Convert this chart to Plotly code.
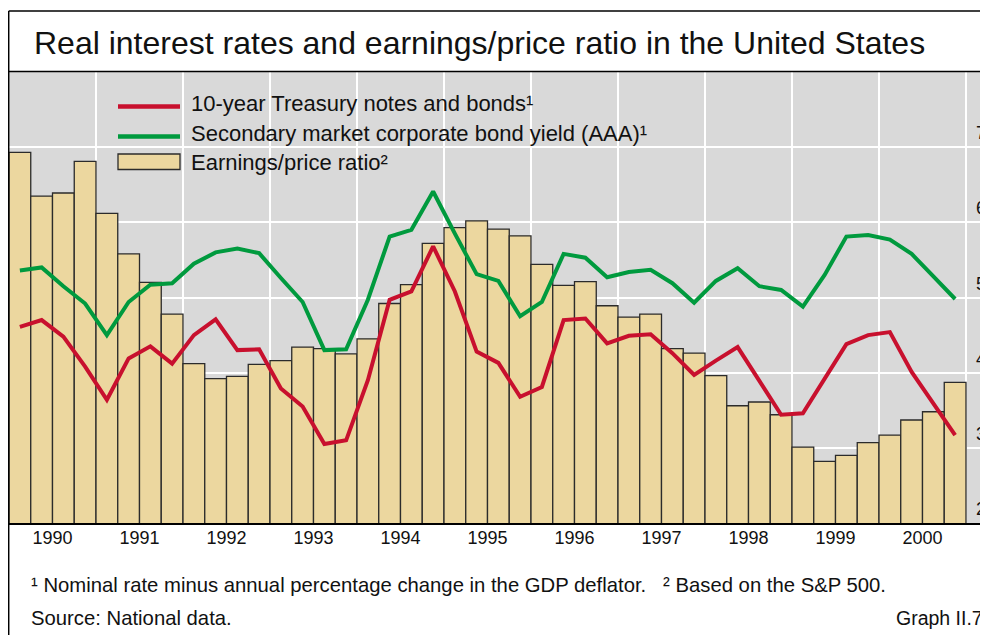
# -*- coding: utf-8 -*-
"""Real interest rates and earnings/price ratio in the United States (Graph II.7)"""
import plotly.graph_objects as go

# ── data (quarterly, 1990 Q1 - 2000 Q4, per cent) ─────────────
years = ['1990', '1991', '1992', '1993', '1994', '1995',
         '1996', '1997', '1998', '1999', '2000']
quarters = [f'{y} Q{q}' for y in years for q in range(1, 5)]

earnings_price = [6.93, 6.35, 6.39, 6.81, 6.12, 5.58, 5.20, 4.78,
                  4.12, 3.92, 3.95, 4.11, 4.16, 4.34, 4.32, 4.25,
                  4.45, 4.92, 5.17, 5.72, 5.93, 6.02, 5.91, 5.82,
                  5.44, 5.16, 5.21, 4.89, 4.74, 4.78, 4.32, 4.26,
                  3.96, 3.56, 3.61, 3.44, 3.01, 2.82, 2.90, 3.07,
                  3.17, 3.37, 3.48, 3.87]
treasury_10y = [4.61, 4.70, 4.48, 4.08, 3.64, 4.19, 4.35, 4.12,
                4.50, 4.71, 4.30, 4.31, 3.79, 3.55, 3.05, 3.10,
                3.90, 4.97, 5.08, 5.68, 5.08, 4.28, 4.13, 3.68,
                3.81, 4.70, 4.72, 4.39, 4.49, 4.51, 4.26, 3.97,
                4.16, 4.34, 3.89, 3.44, 3.46, 3.91, 4.38, 4.50,
                4.54, 4.01, 3.59, 3.17]
corporate_aaa = [5.36, 5.40, 5.15, 4.92, 4.50, 4.94, 5.17, 5.19,
                 5.45, 5.60, 5.65, 5.59, 5.26, 4.94, 4.30, 4.31,
                 4.97, 5.81, 5.90, 6.41, 5.85, 5.31, 5.22, 4.75,
                 4.94, 5.58, 5.53, 5.27, 5.34, 5.37, 5.19, 4.93,
                 5.22, 5.39, 5.15, 5.10, 4.88, 5.30, 5.81, 5.83,
                 5.77, 5.58, 5.28, 4.98]
y_ticks = [2, 3, 4, 5, 6, 7]

# ── style ─────────────────────────────────────────
RED = '#c8102e'
GREEN = '#009a3e'
BAR = '#ecd79f'
EDGE = '#2b2b2b'
BG = '#d9d9d9'
FONT = 'Liberation Sans, Arial, sans-serif'

# the page puts the figure 8px in from the top-left corner of the window
OFF = 8
W, H = 980, 627
L, R, T, B = 1, 0, 64, 112


def px(x):
    """page x (pixels) -> paper x"""
    return (x - OFF - L) / (W - L - R)


def py(y):
    """page y (pixels) -> paper y"""
    return (H - B - (y - OFF)) / (H - T - B)


idx = list(range(len(quarters)))

fig = go.Figure()
fig.add_trace(go.Bar(
    x=idx, y=earnings_price, width=1, name='Earnings/price ratio²',
    marker=dict(color=BAR, line=dict(color=EDGE, width=1.3)),
    hovertext=quarters,
))
fig.add_trace(go.Scatter(
    x=idx, y=corporate_aaa, mode='lines', hovertext=quarters,
    name='Secondary market corporate bond yield (AAA)¹',
    line=dict(color=GREEN, width=4),
))
fig.add_trace(go.Scatter(
    x=idx, y=treasury_10y, mode='lines', hovertext=quarters,
    name='10-year Treasury notes and bonds¹',
    line=dict(color=RED, width=4),
))

fig.update_layout(
    width=W, height=H,
    margin=dict(l=L, r=R, t=T, b=B),
    paper_bgcolor='white', plot_bgcolor=BG,
    showlegend=False,
    font=dict(family=FONT, color='#111'),
)
fig.update_xaxes(
    range=[-0.5, -0.5 + (W - L - R) / 21.75],
    tickvals=[1.5 + 4 * i for i in range(len(years))], ticktext=years,
    tickfont=dict(size=18), ticks='', ticklabelstandoff=-3,
    showgrid=False, zeroline=False,
    showline=True, linecolor='black', linewidth=2,
    minor=dict(tickvals=[3.5 + 4 * i for i in range(len(years))],
               showgrid=True, gridcolor='white', gridwidth=1.5),
)
fig.update_yaxes(
    range=[2, 8], tickvals=y_ticks, showticklabels=False,
    showgrid=True, gridcolor='white', gridwidth=1.5, zeroline=False,
)

# right-hand scale, labels sit just above their gridline at the right edge
for v in y_ticks:
    fig.add_annotation(x=1, xref='paper', y=v, yref='y', text=str(v),
                       xanchor='right', yanchor='middle', yshift=14,
                       showarrow=False, font=dict(size=18))

# ── frame ─────────────────────────────────────────
frame = dict(type='line', xref='paper', yref='paper', layer='above',
             line=dict(color='black', width=1.5))
fig.add_shape(x0=px(8.7), x1=px(990), y0=py(11), y1=py(11), **frame)
fig.add_shape(x0=px(8.7), x1=px(990), y0=py(71.5), y1=py(71.5), **frame)
fig.add_shape(x0=px(8.7), x1=px(8.7), y0=py(11), y1=py(640), **frame)

fig.add_annotation(x=px(32), y=py(43), xref='paper', yref='paper',
                   text='Real interest rates and earnings/price ratio in the United States',
                   xanchor='left', yanchor='middle', showarrow=False,
                   font=dict(size=32, color='#111'))

# ── legend ────────────────────────────────────────
fig.add_shape(type='line', xref='paper', yref='paper',
              x0=px(118), x1=px(180), y0=py(106.5), y1=py(106.5),
              line=dict(color=RED, width=4.5))
fig.add_shape(type='line', xref='paper', yref='paper',
              x0=px(118), x1=px(180), y0=py(136.5), y1=py(136.5),
              line=dict(color=GREEN, width=4.5))
fig.add_shape(type='rect', xref='paper', yref='paper',
              x0=px(118), x1=px(180), y0=py(154), y1=py(169.5),
              fillcolor=BAR, line=dict(color=EDGE, width=1.3))
for i, name in enumerate(['10-year Treasury notes and bonds¹',
                          'Secondary market corporate bond yield (AAA)¹',
                          'Earnings/price ratio²']):
    fig.add_annotation(x=px(189), y=py(104 + 29 * i), xref='paper', yref='paper',
                       text=name, xanchor='left', yanchor='middle',
                       showarrow=False, font=dict(size=22))

# ── footnotes ─────────────────────────────────────
fig.add_annotation(x=px(29), y=py(585), xref='paper', yref='paper',
                   text='¹ Nominal rate minus annual percentage change in the GDP deflator.'
                        '\u00a0\u00a0\u00a0² Based on the S&amp;P 500.',
                   xanchor='left', yanchor='middle', showarrow=False,
                   font=dict(size=20.3))
fig.add_annotation(x=px(29), y=py(618), xref='paper', yref='paper',
                   text='Source: National data.', xanchor='left', yanchor='middle',
                   showarrow=False, font=dict(size=20.3))
fig.add_annotation(x=px(985), y=py(618), xref='paper', yref='paper',
                   text='Graph II.7', xanchor='right', yanchor='middle',
                   showarrow=False, font=dict(size=19.5))

fig.write_html('out.html')
